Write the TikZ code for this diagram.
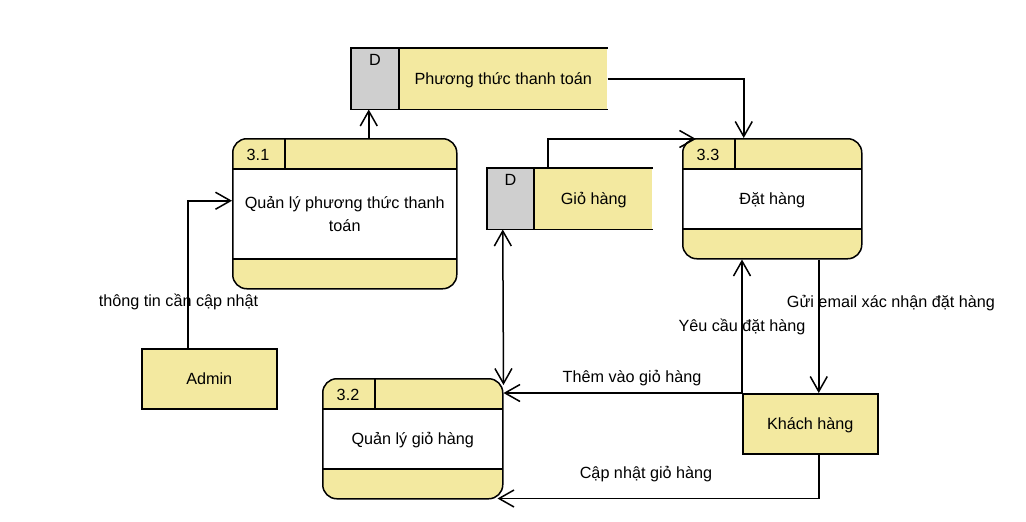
\documentclass[tikz,border=0pt]{standalone}
\usepackage{fontspec}
\setmainfont{Liberation Sans}
\usetikzlibrary{arrows.meta}
\definecolor{dfdyellow}{HTML}{F3E9A0}
\definecolor{dfdgray}{HTML}{CFCFCF}
\begin{document}
\begin{tikzpicture}[x=1pt,y=-1pt,
  font=\fontsize{16.2}{23}\selectfont,
  line width=1.5pt,
  every node/.style={inner sep=0pt},
  t/.style={text height=11.5pt,text depth=0pt},
  flow/.style={-{Straight Barb[length=15pt,width=17pt]}},
  flow2/.style={{Straight Barb[length=15pt,width=17pt]}-{Straight Barb[length=15pt,width=17pt]}},
  proc/.style={draw, rounded corners=14pt, fill=dfdyellow, anchor=north west,
    path picture={
      \fill[white, sharp corners] ([yshift=-30pt]path picture bounding box.north west)
        rectangle ([yshift=30pt]path picture bounding box.south east);
      \draw[sharp corners, line width=1.5pt] ([yshift=-30pt]path picture bounding box.north west)
        -- ([yshift=-30pt]path picture bounding box.north east);
      \draw[sharp corners, line width=1.5pt] ([yshift=30pt]path picture bounding box.south west)
        -- ([yshift=30pt]path picture bounding box.south east);
      \draw[sharp corners, line width=1.5pt] ([xshift=52pt]path picture bounding box.north west)
        -- ([xshift=52pt,yshift=-30pt]path picture bounding box.north west);
    }},
  ext/.style={draw, fill=dfdyellow, anchor=north west, minimum width=135pt, minimum height=60pt, t},
  store/.style={fill=dfdyellow, anchor=north west, minimum height=60pt}
]
\fill[white] (0,0) rectangle (1026,522);
\useasboundingbox (0,0) rectangle (1026,522);

% processes
\node[proc, minimum width=224pt, minimum height=150pt, align=center] (p31) at (232,138)
  {Quản lý phương thức thanh\\toán};
\node[proc, minimum width=179pt, minimum height=120pt, t] (p33) at (682,138) {Đặt hàng};
\node[proc, minimum width=180pt, minimum height=120pt, t] (p32) at (322,378) {Quản lý giỏ hàng};
\node[t] (id31) at ([xshift=26pt,yshift=-16.5pt]p31.north west) {3.1};
\node[t] (id33) at ([xshift=26pt,yshift=-16.5pt]p33.north west) {3.3};
\node[t] (id32) at ([xshift=26pt,yshift=-16.5pt]p32.north west) {3.2};

% data stores
\node[store, minimum width=255pt] (ds1) at (351,48) {};
\fill[dfdgray] (ds1.north west) rectangle ([xshift=48pt]ds1.south west);
\draw (ds1.north east) -- (ds1.north west) -- (ds1.south west) -- (ds1.south east);
\draw ([xshift=48pt]ds1.north west) -- ([xshift=48pt]ds1.south west);
\node[t] (ds1d) at ([xshift=24pt,yshift=-12pt]ds1.north west) {D};
\node[t] (ds1t) at ([xshift=24pt]ds1.center) {Phương thức thanh toán};

\node[store, minimum width=164pt] (ds2) at (487,168) {};
\fill[dfdgray] (ds2.north west) rectangle ([xshift=47pt]ds2.south west);
\draw (ds2.north east) -- (ds2.north west) -- (ds2.south west) -- (ds2.south east);
\draw ([xshift=47pt]ds2.north west) -- ([xshift=47pt]ds2.south west);
\node[t] (ds2d) at ([xshift=23.5pt,yshift=-12pt]ds2.north west) {D};
\node[t] (ds2t) at ([xshift=24pt]ds2.center) {Giỏ hàng};

% external entities
\node[ext] (admin) at (141,348) {Admin};
\node[ext] (kh) at (742,393) {Khách hàng};

% flows
\draw[flow] ([xshift=24pt]p31.north) -- ([xshift=24pt]p31.north |- ds1.south);
\draw[flow] (ds1.east) -| ([xshift=-28.5pt]p33.north);
\draw[flow] ([xshift=-22pt]ds2.north) |- ([xshift=14pt,yshift=-1pt]p33.north west);
\draw[flow] ([xshift=-21.5pt]admin.north) |- ([yshift=13pt]p31.west);
\draw[flow2] ([xshift=-67pt]ds2.south) -- ([yshift=-7pt]p32.north east);
\draw[flow] (kh.north west) -- (kh.north west -| p32.east);
\draw[flow] (kh.north west) -- (kh.north west |- p33.south);
\draw[flow] ([xshift=8.5pt]kh.north |- p33.south) -- ([xshift=8.5pt]kh.north);
\draw[flow] ([xshift=8.5pt]kh.south) |- ([xshift=-6pt,yshift=1pt]p32.south east);

% flow labels
\node[t] (l1) at (178.5,301) {thông tin cần cập nhật};
\node[t] (l2) at (632,377) {Thêm vào giỏ hàng};
\node[t] (l3) at (742,326) {Yêu cầu đặt hàng};
\node[t] (l4) at (891,302) {Gửi email xác nhận đặt hàng};
\node[t] (l5) at (646,473) {Cập nhật giỏ hàng};
\end{tikzpicture}
\end{document}
